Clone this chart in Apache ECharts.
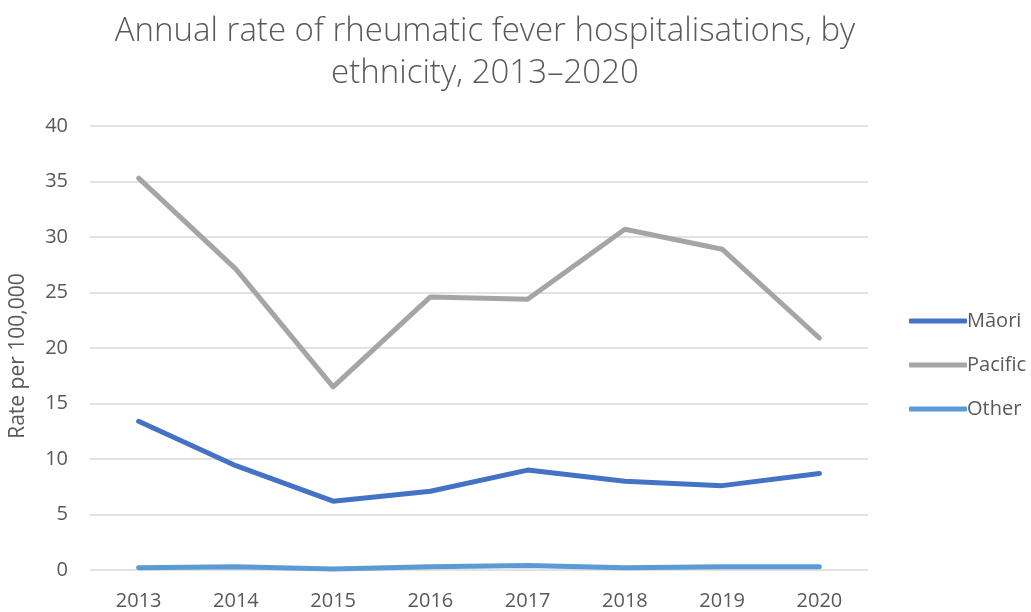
<!DOCTYPE html>
<html><head><meta charset="utf-8">
<script src="https://cdn.jsdelivr.net/npm/echarts@6/dist/echarts.min.js"></script>
<style>html,body{margin:0;padding:0;background:#fff}#c{width:1031px;height:612px}</style>
</head><body><div id="c"></div>
<script>
const years = ['2013','2014','2015','2016','2017','2018','2019','2020'];
const maori = [13.4, 9.4, 6.2, 7.1, 9.0, 8.0, 7.6, 8.7];
const pacific = [35.3, 27.1, 16.5, 24.6, 24.4, 30.7, 28.9, 20.9];
const other = [0.2, 0.3, 0.1, 0.3, 0.4, 0.2, 0.3, 0.3];
const seriesNames = ['Māori', 'Pacific', 'Other'];
const colors = ['#4472C4', '#A5A5A5', '#5B9BD5'];
const font = '"Open Sans", "Liberation Sans", sans-serif';
const chart = echarts.init(document.getElementById('c'));
const mk = (name, data, color) => ({
  name, type: 'line', data, symbol: 'none', smooth: false,
  lineStyle: { color, width: 5, cap: 'round', join: 'round' },
  itemStyle: { color }
});
chart.setOption({
  animation: false,
  color: colors,
  title: {
    text: 'Annual rate of rheumatic fever hospitalisations, by\nethnicity, 2013–2020',
    left: 480, top: 6, textAlign: 'center',
    textStyle: { fontFamily: font, fontWeight: 300, fontSize: 33, color: '#595959', lineHeight: 42 }
  },
  grid: { left: 90, right: 163, top: 126, bottom: 42 },
  legend: {
    orient: 'vertical', left: 904, top: 304, itemGap: 20, itemWidth: 58, itemHeight: 5,
    icon: 'roundRect',
    textStyle: { fontFamily: font, fontSize: 20, color: '#595959', lineHeight: 24, padding: [0,0,0,-5] },
    data: seriesNames
  },
  xAxis: {
    type: 'category', data: years, boundaryGap: true,
    axisLine: { show: false }, axisTick: { show: false },
    axisLabel: { fontFamily: font, fontSize: 20, color: '#595959', margin: 21 }
  },
  yAxis: {
    type: 'value', min: 0, max: 40, interval: 5,
    name: 'Rate per 100,000', nameLocation: 'middle', nameGap: 61, nameRotate: 90,
    nameTextStyle: { fontFamily: font, fontSize: 21, color: '#595959', padding: [0, 16, 0, 0] },
    axisLine: { show: false }, axisTick: { show: false },
    axisLabel: { fontFamily: font, fontSize: 20, color: '#595959', margin: 22 },
    splitLine: { lineStyle: { color: '#D9D9D9', width: 1.5 } }
  },
  series: [mk(seriesNames[0], maori, colors[0]), mk(seriesNames[1], pacific, colors[1]), mk(seriesNames[2], other, colors[2])]
});
</script></body></html>
